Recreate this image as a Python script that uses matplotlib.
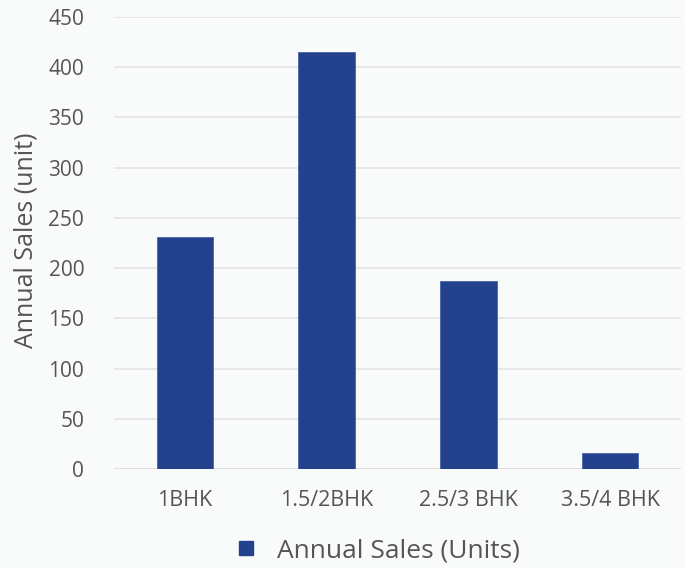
import matplotlib
matplotlib.use("Agg")
import matplotlib.pyplot as plt
from matplotlib.lines import Line2D

categories = ["1BHK", "1.5/2BHK", "2.5/3 BHK", "3.5/4 BHK"]
annual_sales = [231, 415, 187, 16]
y_ticks = [0, 50, 100, 150, 200, 250, 300, 350, 400, 450]

plt.rcParams["font.family"] = ["Open Sans", "DejaVu Sans"]

BG = "#f9fbfb"
BAR = "#23418c"
TEXT = "#555555"
GRID = "#e4e4e6"

fig = plt.figure(figsize=(6.85, 5.68), dpi=100, facecolor=BG)
ax = fig.add_axes([114 / 685, 1 - 469.3 / 568, (681 - 114) / 685, (469.3 - 16.7) / 568])
ax.set_facecolor(BG)

x = range(len(categories))
ax.bar(x, annual_sales, width=0.4, color=BAR, edgecolor="#4a63a6", linewidth=0.6, zorder=3)

ax.set_xlim(-0.5, len(categories) - 0.5)
ax.set_ylim(0, 450)
ax.set_yticks(y_ticks)
ax.set_xticks(list(x))
ax.set_xticklabels(categories)

ax.grid(axis="y", color=GRID, linewidth=1.2, zorder=0)
ax.axhline(0, color="#dedee0", linewidth=2, zorder=2)
for s in ax.spines.values():
    s.set_visible(False)

ax.tick_params(axis="y", length=0, pad=21.5, labelsize=15, labelcolor=TEXT)
ax.tick_params(axis="x", length=0, pad=15, labelsize=15.5, labelcolor=TEXT)
ax.set_ylabel("Annual Sales (unit)", fontsize=18, color=TEXT)
ax.yaxis.set_label_coords(-0.134, 0.505)

handle = Line2D([], [], marker="s", linestyle="none", color=BAR, markersize=10)
fig.legend([handle], ["Annual Sales (Units)"], loc="center",
           bbox_to_anchor=(375 / 685, 1 - 551 / 568), frameon=False,
           fontsize=19, labelcolor=TEXT, handletextpad=0.55, handlelength=1.2)

fig.savefig("out.png", dpi=100, facecolor=BG)
